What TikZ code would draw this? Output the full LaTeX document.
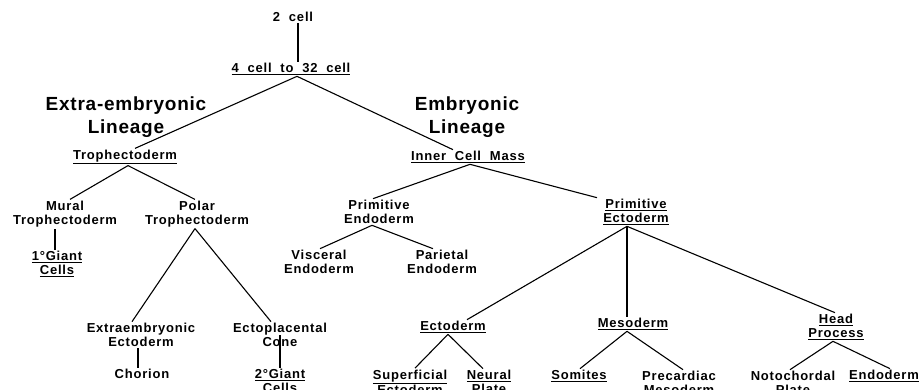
\documentclass[tikz,border=0pt]{standalone}
\usepackage{fontspec}
\newfontfamily\lblfont[LetterSpace=6]{Liberation Sans}
\newfontfamily\ttlfont[LetterSpace=4]{Liberation Sans}
\newcommand{\ulin}[1]{\underline{#1}}

\tikzset{
  lbl/.style={font=\lblfont\bfseries\fontsize{13}{14}\selectfont, align=center, inner sep=1pt},
  ttl/.style={font=\ttlfont\bfseries\fontsize{19}{22.5}\selectfont, align=center, inner sep=0pt},
}

\begin{document}
\begin{tikzpicture}[x=1pt, y=-1pt, line width=1.1pt]
  \useasboundingbox (0,0) rectangle (922,390);

  \node[ttl] (t-extra) at (126,117) {Extra-embryonic\\Lineage};
  \node[ttl] (t-emb) at (467,117) {Embryonic\\Lineage};

  \node[lbl] (c2) at (293,17) {2\ \ cell};
  \node[lbl] (c4) at (291,69) {\ulin{4\ \ cell\ \ to\ \ 32\ \ cell}};

  \node[lbl] (tropho) at (125,157) {\ulin{Trophectoderm}};
  \node[lbl] (icm) at (468,157) {\ulin{Inner\ \ Cell\ \ Mass}};

  \node[lbl] (mural) at (65,214) {Mural\\Trophectoderm};
  \node[lbl] (polar) at (197,214) {Polar\\Trophectoderm};
  \node[lbl] (giant1) at (57,264) {\ulin{1°Giant}\\\ulin{Cells}};
  \node[lbl] (extraecto) at (141,335) {Extraembryonic\\Ectoderm};
  \node[lbl] (chorion) at (142,374) {Chorion};
  \node[lbl] (ectopl) at (280,335) {Ectoplacental\\Cone};
  \node[lbl] (giant2) at (280,382) {\ulin{2°Giant}\\\ulin{Cells}};

  \node[lbl] (primendo) at (379,212) {Primitive\\Endoderm};
  \node[lbl] (visceral) at (319,262) {Visceral\\Endoderm};
  \node[lbl] (parietal) at (442,262) {Parietal\\Endoderm};
  \node[lbl] (primecto) at (636,212) {\ulin{Primitive}\\\ulin{Ectoderm}};

  \node[lbl] (ecto) at (453,327) {\ulin{Ectoderm}};
  \node[lbl] (meso) at (633,324) {\ulin{Mesoderm}};
  \node[lbl] (head) at (836,327) {\ulin{Head}\\\ulin{Process}};

  \node[lbl] (superf) at (410,383) {\ulin{Superficial}\\\ulin{Ectoderm}};
  \node[lbl] (neural) at (489,383) {\ulin{Neural}\\\ulin{Plate}};
  \node[lbl] (somites) at (579,376) {\ulin{Somites}};
  \node[lbl] (precard) at (679,383) {Precardiac\\Mesoderm};
  \node[lbl] (notoch) at (793,383) {Notochordal\\Plate};
  \node[lbl] (endo) at (884,376) {\ulin{Endoderm}};

  % branches: parent / shift at parent / child / shift at child
  \foreach \from/\a/\to/\b in {c4/6/tropho/10, c4/6/icm/-15,
      tropho/3/mural/5, tropho/3/polar/-2,
      polar/-2/extraecto/-9, polar/-2/ectopl/-9,
      icm/2/primendo/-6, icm/2/primecto/-39,
      primendo/-7/visceral/1, primendo/-7/parietal/-9,
      primecto/-9/ecto/14, primecto/-9/head/-1,
      ecto/-5/superf/5, ecto/-5/neural/-6,
      meso/-6/somites/1, meso/-6/precard/4,
      head/-3/notoch/-3, head/-3/endo/6} {
    \draw ([xshift=\a pt]\from.south) -- ([xshift=\b pt]\to.north);
  }

  % straight down
  \draw ([xshift=5pt]c2.south) -- ([xshift=5pt]c2.south |- c4.north);
  \draw ([xshift=-2pt]giant1.north) -- ([xshift=-2pt]giant1.north |- mural.south);
  \draw ([xshift=-3pt]extraecto.south) -- ([xshift=-3pt]extraecto.south |- chorion.north);
  \draw (giant2.north) -- (giant2.north |- ectopl.center);
  \draw ([xshift=-6pt]meso.north) -- ([xshift=-6pt]meso.north |- primecto.south);
\end{tikzpicture}
\end{document}
